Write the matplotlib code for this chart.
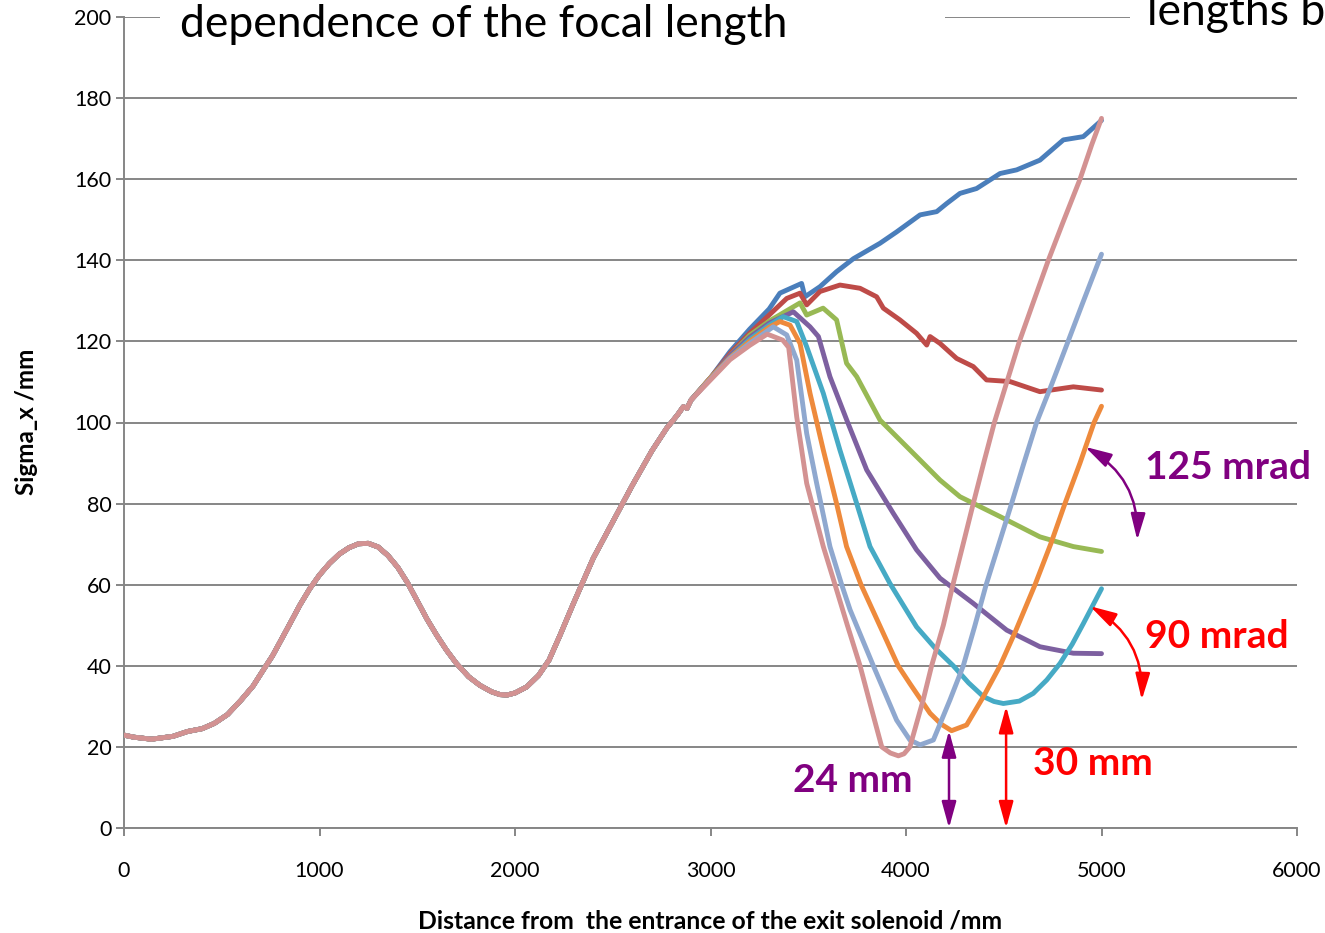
import matplotlib
matplotlib.use("Agg")
import matplotlib.pyplot as plt
from matplotlib.patches import FancyArrowPatch, Rectangle

plt.rcParams['font.family'] = ['Lato', 'DejaVu Sans']

# tramo comun a todas las curvas
xComun = [0, 50, 140, 250, 325, 400, 462, 530, 600, 660, 713, 760, 804, 850, 900, 950, 1000,
          1050, 1100, 1150, 1200, 1250, 1300, 1350, 1400, 1450, 1500, 1550, 1600, 1649, 1700,
          1763, 1820, 1880, 1923, 1960, 2000, 2060, 2120, 2174, 2230, 2300, 2400, 2500, 2600,
          2700, 2776, 2830, 2861, 2880, 2900]
yComun = [22.9, 22.4, 21.9, 22.6, 23.8, 24.5, 25.8, 28, 31.6, 35, 39, 42.5, 46.4, 50.5, 55, 59,
          62.4, 65.2, 67.5, 69.1, 70.1, 70.2, 69.3, 67.2, 64.3, 60.5, 56, 51.5, 47.5, 43.9, 40.6,
          37.3, 35.2, 33.6, 32.9, 32.8, 33.3, 34.8, 37.6, 41.4, 47.5, 55.5, 66.5, 75.5, 84.5,
          93, 98.6, 101.8, 103.9, 103.5, 105.5]

# cada curva despues de 3000 mm
xAzul = [3000, 3100, 3200, 3300, 3355, 3466, 3483, 3560, 3645, 3731, 3867, 3952, 4072, 4157,
         4208, 4276, 4361, 4481, 4566, 4685, 4805, 4907, 5000]
yAzul = [111, 117.5, 123, 128, 131.9, 134.3, 131, 133.5, 137.2, 140.4, 144.2, 147, 151.2, 152,
         154, 156.5, 157.7, 161.4, 162.3, 164.7, 169.7, 170.5, 174.5]

xRojo = [3000, 3100, 3200, 3300, 3390, 3458, 3492, 3560, 3662, 3765, 3850, 3884, 3969, 4054,
         4106, 4123, 4174, 4259, 4344, 4412, 4532, 4685, 4856, 5000]
yRojo = [111, 117, 122, 126.5, 130.6, 131.9, 129, 132.3, 133.9, 133.1, 131, 128.2, 125.3, 122,
         119.1, 121.2, 119.5, 115.8, 113.8, 110.5, 110.1, 107.6, 108.8, 108]

xVerde = [3000, 3100, 3200, 3300, 3458, 3492, 3576, 3645, 3696, 3748, 3867, 4054, 4174, 4276,
          4481, 4685, 4856, 5000]
yVerde = [111, 116.5, 121.5, 125, 129.5, 126.5, 128.2, 125.3, 114.6, 111.3, 100.6, 91.6, 85.8,
          81.7, 76.8, 71.8, 69.4, 68.2]

xMorado = [3000, 3100, 3200, 3300, 3424, 3509, 3552, 3611, 3697, 3799, 3935, 4054, 4174, 4344,
           4515, 4685, 4856, 5000]
yMorado = [111, 116.5, 121, 124.5, 127.3, 123.6, 121.2, 111.3, 100.6, 88.3, 77.6, 68.6, 61.6,
           55.4, 48.8, 44.7, 43.1, 43]

xTurquesa = [3000, 3100, 3200, 3300, 3372, 3441, 3492, 3577, 3662, 3748, 3816, 3918, 4054, 4150,
             4242, 4320, 4396, 4450, 4498, 4580, 4651, 4720, 4788, 4850, 4907, 5000]
yTurquesa = [111, 116, 120.5, 124, 126.1, 124.9, 118.7, 107.2, 93.2, 80, 69.4, 60.3, 49.6, 44.3,
             40, 35.8, 32.4, 31.2, 30.7, 31.3, 33.2, 36.5, 40.6, 45.3, 50.4, 59]

xNaranja = [3000, 3100, 3200, 3300, 3355, 3407, 3458, 3509, 3577, 3645, 3696, 3770, 3884, 3960,
            4020, 4123, 4180, 4233, 4310, 4396, 4481, 4560, 4660, 4740, 4813, 4890, 4962, 5000]
yNaranja = [111, 116, 120, 123.5, 124.9, 124, 119.5, 107.2, 93.2, 80, 69.4, 60, 48, 40, 35.6,
            28.3, 25.6, 24, 25.4, 32.4, 40, 48.5, 60, 70, 80, 90, 100, 104]

xCeleste = [3000, 3100, 3200, 3321, 3390, 3441, 3492, 3543, 3611, 3671, 3714, 3833, 3952, 4020,
            4072, 4140, 4225, 4293, 4350, 4410, 4475, 4540, 4600, 4668, 4750, 4829, 4900, 4988,
            5000]
yCeleste = [110.7, 115.8, 119.5, 123.6, 121.6, 115.4, 97.3, 85, 69.4, 60, 53.8, 40, 26.6, 21.7,
            20.5, 21.7, 31.6, 40, 49.5, 60, 70, 80, 89.5, 100, 110, 120, 129, 140, 141.5]

xRosa = [3000, 3100, 3200, 3290, 3370, 3400, 3441, 3492, 3577, 3637, 3700, 3765, 3820, 3876,
         3920, 3961, 3990, 4020, 4088, 4131, 4191, 4240, 4300, 4344, 4400, 4452, 4500, 4580,
         4650, 4728, 4800, 4890, 4950, 5000]
yRosa = [110.5, 115.5, 119, 121.8, 120.3, 118.5, 101.4, 85, 69.4, 60, 50, 40, 30, 20, 18.5,
         17.8, 18.3, 20, 31.6, 40, 50, 60, 71.5, 80, 90.5, 100, 107.5, 120, 129.5, 140, 149,
         160, 168.5, 175]

colas = [(xAzul, yAzul), (xRojo, yRojo), (xVerde, yVerde), (xMorado, yMorado),
         (xTurquesa, yTurquesa), (xNaranja, yNaranja), (xCeleste, yCeleste), (xRosa, yRosa)]
colores = ['#4A7EBB', '#BE4B48', '#98B954', '#7D60A0', '#46AAC5', '#EE8A3C', '#8FA8CF', '#D39292']

minimo24 = 24
minimo30 = 30
xMin24 = 4220
xMin30 = 4512

fig = plt.figure(figsize=(13.25, 9.33), dpi=100)
ax = fig.add_axes([124 / 1325, 105 / 933, 1173 / 1325, 811 / 933])

for (xc, yc), col in zip(colas, colores):
    ax.plot(xComun + xc, yComun + yc, color=col, lw=3.5, solid_joinstyle='round',
            solid_capstyle='round', zorder=3)

gris = '#868686'
ax.set_xlim(0, 6000)
ax.set_ylim(0, 200)
ax.set_xticks(range(0, 6001, 1000))
ax.set_yticks(range(0, 201, 20))
ax.yaxis.grid(True, color=gris, lw=1.4)
ax.set_axisbelow(True)
for s in ['top', 'right']:
    ax.spines[s].set_visible(False)
for s in ['left', 'bottom']:
    ax.spines[s].set_color(gris)
    ax.spines[s].set_linewidth(1.4)
ax.tick_params(axis='both', colors=gris, width=1.4, length=6, labelcolor='black', labelsize=15.5)
ax.tick_params(axis='x', pad=18)
ax.tick_params(axis='y', pad=3)

fig.text(27 / 1325, 1 - 422 / 933, 'Sigma_x /mm', rotation=90, ha='center', va='center',
         fontsize=17.5, fontweight='bold')
fig.text(710 / 1325, 1 - 921 / 933, 'Distance from  the entrance of the exit solenoid /mm',
         ha='center', va='center', fontsize=17.8, fontweight='bold')

# cajas blancas de los titulos sobre la linea de 200
fig.add_artist(Rectangle((160 / 1325, 1 - 52 / 933), 785 / 1325, 52 / 933,
                         transform=fig.transFigure, facecolor='white', edgecolor='none', zorder=2))
fig.add_artist(Rectangle((1130 / 1325, 1 - 45 / 933), 195 / 1325, 45 / 933,
                         transform=fig.transFigure, facecolor='white', edgecolor='none', zorder=2))
fig.text(180 / 1325, 1 - 37 / 933, 'dependence of the focal length', fontsize=32,
         ha='left', va='baseline', zorder=3)
fig.text(1147 / 1325, 1 - 25 / 933, 'lengths b', fontsize=32, ha='left', va='baseline', zorder=3)

morado = '#800080'
rojo = '#FF0000'
estilo = '<|-|>,head_length=0.8,head_width=0.22'

ax.add_patch(FancyArrowPatch((xMin24, 0), (xMin24, minimo24), arrowstyle=estilo,
                             mutation_scale=20, color=morado, lw=1.8, shrinkA=0, shrinkB=0,
                             clip_on=False, zorder=4))
ax.add_patch(FancyArrowPatch((xMin30, 0), (xMin30, minimo30), arrowstyle=estilo,
                             mutation_scale=20, color=rojo, lw=1.8, shrinkA=0, shrinkB=0,
                             clip_on=False, zorder=4))
ax.add_patch(FancyArrowPatch((4916, 94), (5183, 71), arrowstyle=estilo,
                             connectionstyle='arc3,rad=-0.3', mutation_scale=20, color=morado,
                             lw=1.8, shrinkA=0, shrinkB=0, clip_on=False, zorder=4))
ax.add_patch(FancyArrowPatch((4941, 54.7), (5206, 31.6), arrowstyle=estilo,
                             connectionstyle='arc3,rad=-0.3', mutation_scale=20, color=rojo,
                             lw=1.8, shrinkA=0, shrinkB=0, clip_on=False, zorder=4))

ax.text(5223, 86, '125 mrad', color=morado, fontsize=28, fontweight='bold', va='baseline')
ax.text(5223, 44.4, '90 mrad', color=rojo, fontsize=28, fontweight='bold', va='baseline')
ax.text(3422, 9, f'{minimo24} mm', color=morado, fontsize=28, fontweight='bold', va='baseline')
ax.text(4650, 13.1, f'{minimo30} mm', color=rojo, fontsize=28, fontweight='bold', va='baseline')

fig.savefig('out.png', dpi=100)
